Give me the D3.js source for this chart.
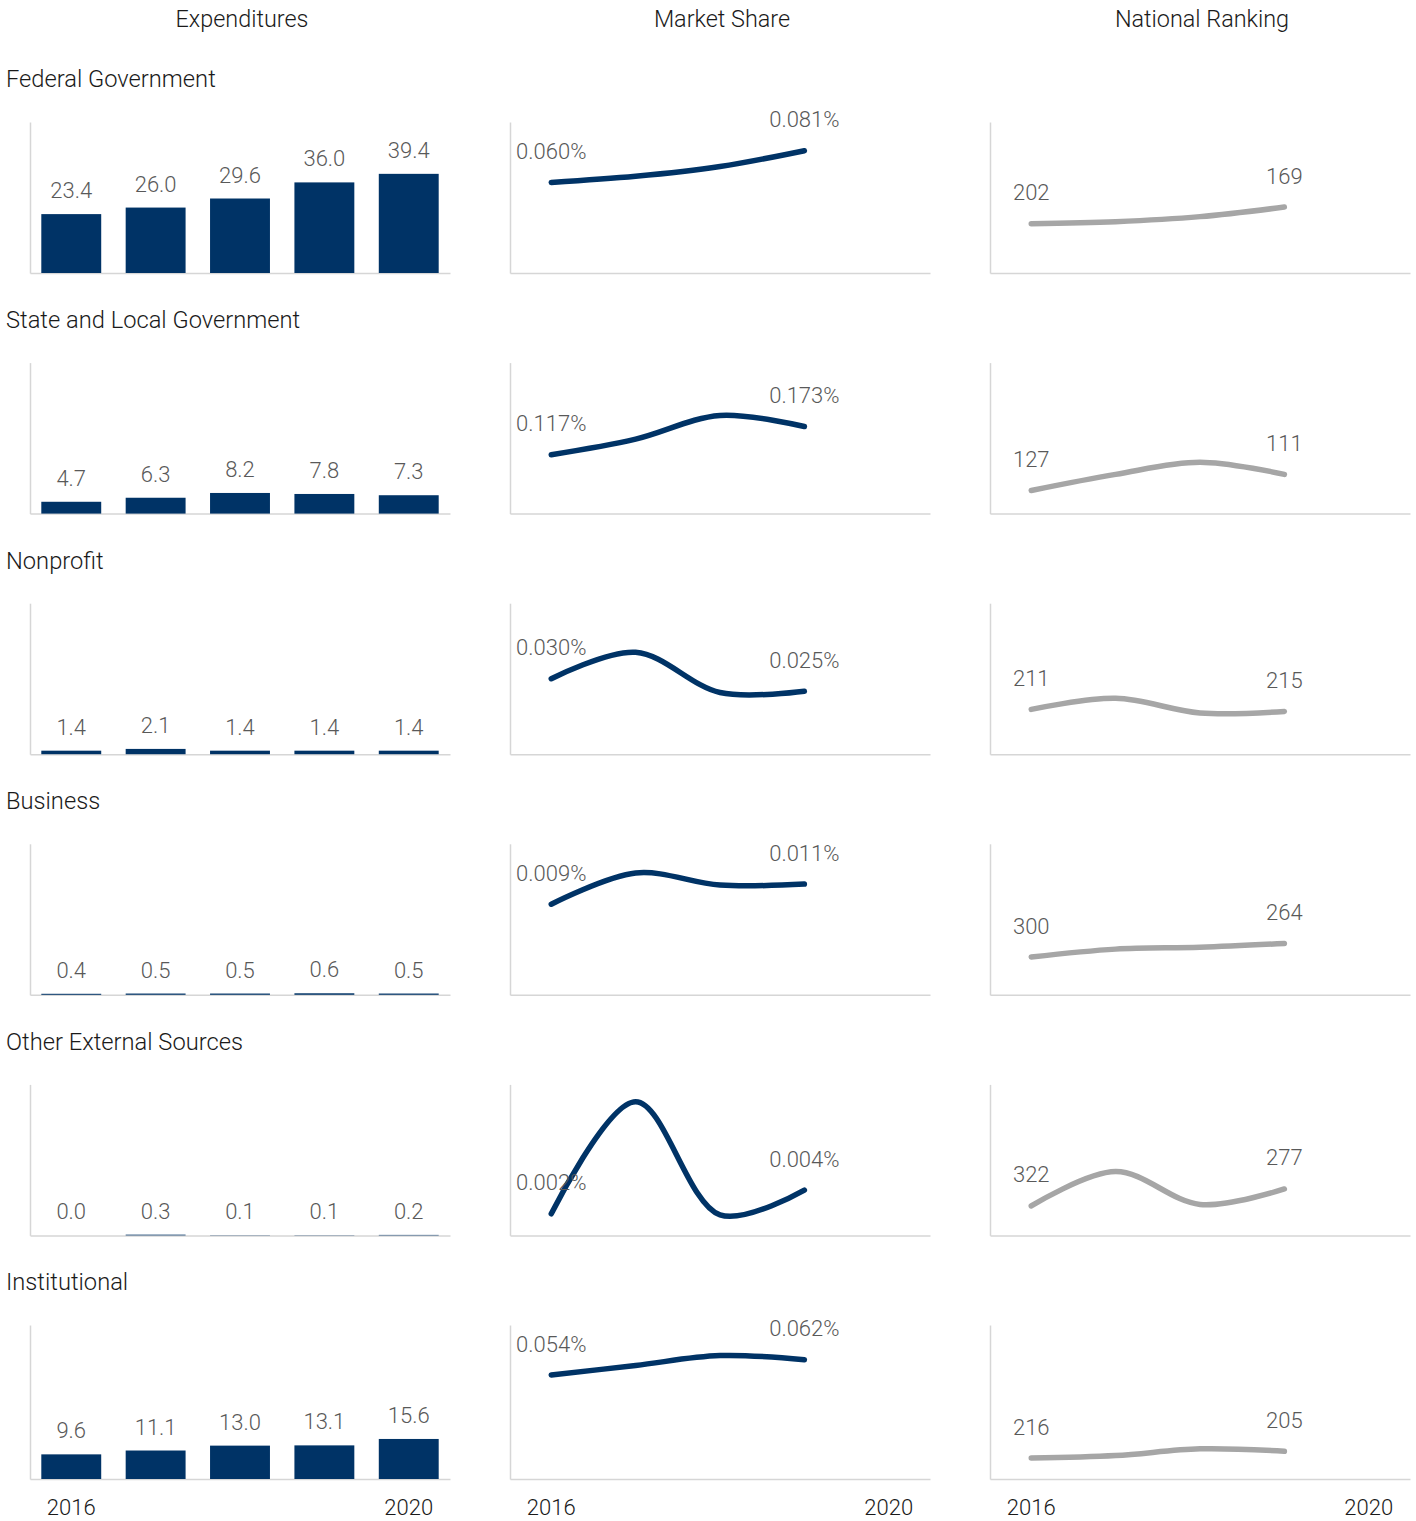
<!DOCTYPE html>
<html>
<head>
<meta charset="utf-8">
<script src="https://cdn.jsdelivr.net/npm/d3@7"></script>
<style>
  html, body { margin: 0; padding: 0; background: #ffffff; }
  svg text { font-family: Roboto, "Liberation Sans", sans-serif; font-weight: 300; }
</style>
</head>
<body>
<svg id="chart" width="1416" height="1521"></svg>
<script>
// ---------------- data ----------------
const years = [2016, 2017, 2018, 2019, 2020];
const lineYears = [2016, 2017, 2018, 2019];
const tickYears = [2016, 2020];
const columnTitles = ["Expenditures", "Market Share", "National Ranking"];
const categories = ["Federal Government", "State and Local Government", "Nonprofit", "Business", "Other External Sources", "Institutional"];

const expFederal = [23.4, 26.0, 29.6, 36.0, 39.4];
const expState = [4.7, 6.3, 8.2, 7.8, 7.3];
const expNonprofit = [1.4, 2.1, 1.4, 1.4, 1.4];
const expBusiness = [0.4, 0.5, 0.5, 0.6, 0.5];
const expOther = [0.0, 0.3, 0.1, 0.1, 0.2];
const expInstitutional = [9.6, 11.1, 13.0, 13.1, 15.6];
const expDomainMax = 60;

// market share, in percent
const msFederal = [0.060, 0.064, 0.0705, 0.081];
const msState = [0.117, 0.148, 0.195, 0.173];
const msNonprofit = [0.030, 0.0405, 0.0245, 0.025];
const msBusiness = [0.009, 0.0121, 0.0109, 0.011];
const msOther = [0.002, 0.0124, 0.0019, 0.0042];
const msInstitutional = [0.054, 0.059, 0.0641, 0.062];
const msDomainMax = [0.1, 0.3, 0.06, 0.015, 0.014, 0.08];

// national ranking
const rkFederal = [202, 198, 188, 169];
const rkState = [127, 111, 99, 111];
const rkNonprofit = [211, 189, 218, 215];
const rkBusiness = [300, 279, 274, 264];
const rkOther = [322, 231, 318, 277];
const rkInstitutional = [216, 212, 201, 205];
const rkDomainMax = [300, 150, 300, 400, 400, 250];

const expenditures = [expFederal, expState, expNonprofit, expBusiness, expOther, expInstitutional];
const marketShare = [msFederal, msState, msNonprofit, msBusiness, msOther, msInstitutional];
const ranking = [rkFederal, rkState, rkNonprofit, rkBusiness, rkOther, rkInstitutional];

// ---------------- layout ----------------
const NAVY = "#003366";
const GREY_LINE = "#a6a6a6";
const AXIS = "#d6d6d6";
const VALUE_COLOR = "#595959";
const TEXT_COLOR = "#1a1a1a";

const colX = [30, 510, 990];
const colW = 420;
const rowTop0 = 122, rowStep = 240.6;
const rowHeights = [151, 151, 151, 151, 151, 154];

const svg = d3.select("#chart");

// column titles
svg.selectAll("text.coltitle")
  .data(columnTitles)
  .join("text")
  .attr("class", "coltitle")
  .attr("x", (d, i) => colX[i] + colW / 2 + 2)
  .attr("y", 27)
  .attr("text-anchor", "middle")
  .attr("font-size", 23.4)
  .attr("fill", TEXT_COLOR)
  .text(d => d);

const fmtExp = d3.format(".1f");
const fmtMs = v => d3.format(".3f")(v) + "%";
const fmtRk = d3.format("d");

categories.forEach((cat, r) => {
  const top = rowTop0 + r * rowStep;
  const h = rowHeights[r];
  const bottom = top + h;
  const isLast = r === categories.length - 1;

  // row label
  svg.append("text")
    .attr("x", 6)
    .attr("y", top - 34.7)
    .attr("font-size", 23.7)
    .attr("fill", TEXT_COLOR)
    .text(cat);

  for (let c = 0; c < 3; c++) {
    const g = svg.append("g");
    const x = d3.scaleBand()
      .domain(years)
      .range([colX[c], colX[c] + colW])
      .paddingInner(0.29)
      .paddingOuter(0.134);

    let y;
    if (c === 0) y = d3.scaleLinear().domain([0, expDomainMax]).range([bottom, top]);
    else if (c === 1) y = d3.scaleLinear().domain([0, msDomainMax[r]]).range([bottom, top]);
    else y = d3.scaleLinear().domain([rkDomainMax[r], 0]).range([bottom, top]);

    // axes
    const xAxis = d3.axisBottom(x)
      .tickValues(tickYears)
      .tickSize(0)
      .tickSizeOuter(0)
      .tickPadding(20)
      .tickFormat(isLast ? d3.format("d") : () => "");
    const xg = g.append("g").attr("transform", `translate(0,${bottom})`).call(xAxis);
    xg.select(".domain").attr("stroke", AXIS).attr("stroke-width", 1.5);
    xg.selectAll("text")
      .attr("font-size", 22)
      .attr("fill", TEXT_COLOR)
      .attr("font-family", "Roboto, 'Liberation Sans', sans-serif")
      .attr("font-weight", 300);

    const yAxis = d3.axisLeft(y).tickValues([]).tickSizeOuter(0);
    const yg = g.append("g").attr("transform", `translate(${colX[c]},0)`).call(yAxis);
    yg.select(".domain").attr("stroke", AXIS).attr("stroke-width", 1.5);

    if (c === 0) {
      const vals = expenditures[r];
      const data = years.map((yr, i) => ({ yr, v: vals[i] }));
      g.selectAll("rect.bar")
        .data(data)
        .join("rect")
        .attr("class", "bar")
        .attr("x", d => x(d.yr))
        .attr("width", x.bandwidth())
        .attr("y", d => y(d.v))
        .attr("height", d => bottom - y(d.v))
        .attr("fill", NAVY);
      g.selectAll("text.val")
        .data(data)
        .join("text")
        .attr("class", "val")
        .attr("x", d => x(d.yr) + x.bandwidth() / 2)
        .attr("y", d => y(d.v) - 16)
        .attr("text-anchor", "middle")
        .attr("font-size", 22)
        .attr("fill", VALUE_COLOR)
        .text(d => fmtExp(d.v));
    } else {
      const vals = c === 1 ? marketShare[r] : ranking[r];
      const data = lineYears.map((yr, i) => ({ yr, v: vals[i] }));
      const cx = d => x(d.yr) + x.bandwidth() / 2;
      const line = d3.line()
        .x(cx)
        .y(d => y(d.v))
        .curve(d3.curveCatmullRom);
      g.append("path")
        .datum(data)
        .attr("d", line)
        .attr("fill", "none")
        .attr("stroke", c === 1 ? NAVY : GREY_LINE)
        .attr("stroke-width", 5.5)
        .attr("stroke-linecap", "round");
      const ends = [data[0], data[data.length - 1]];
      g.selectAll("text.val")
        .data(ends)
        .join("text")
        .attr("class", "val")
        .attr("x", cx)
        .attr("y", d => y(d.v) - 23.5)
        .attr("text-anchor", "middle")
        .attr("font-size", 22)
        .attr("fill", VALUE_COLOR)
        .text(d => c === 1 ? fmtMs(d.v) : fmtRk(d.v));
    }
  }
});
</script>
</body>
</html>
